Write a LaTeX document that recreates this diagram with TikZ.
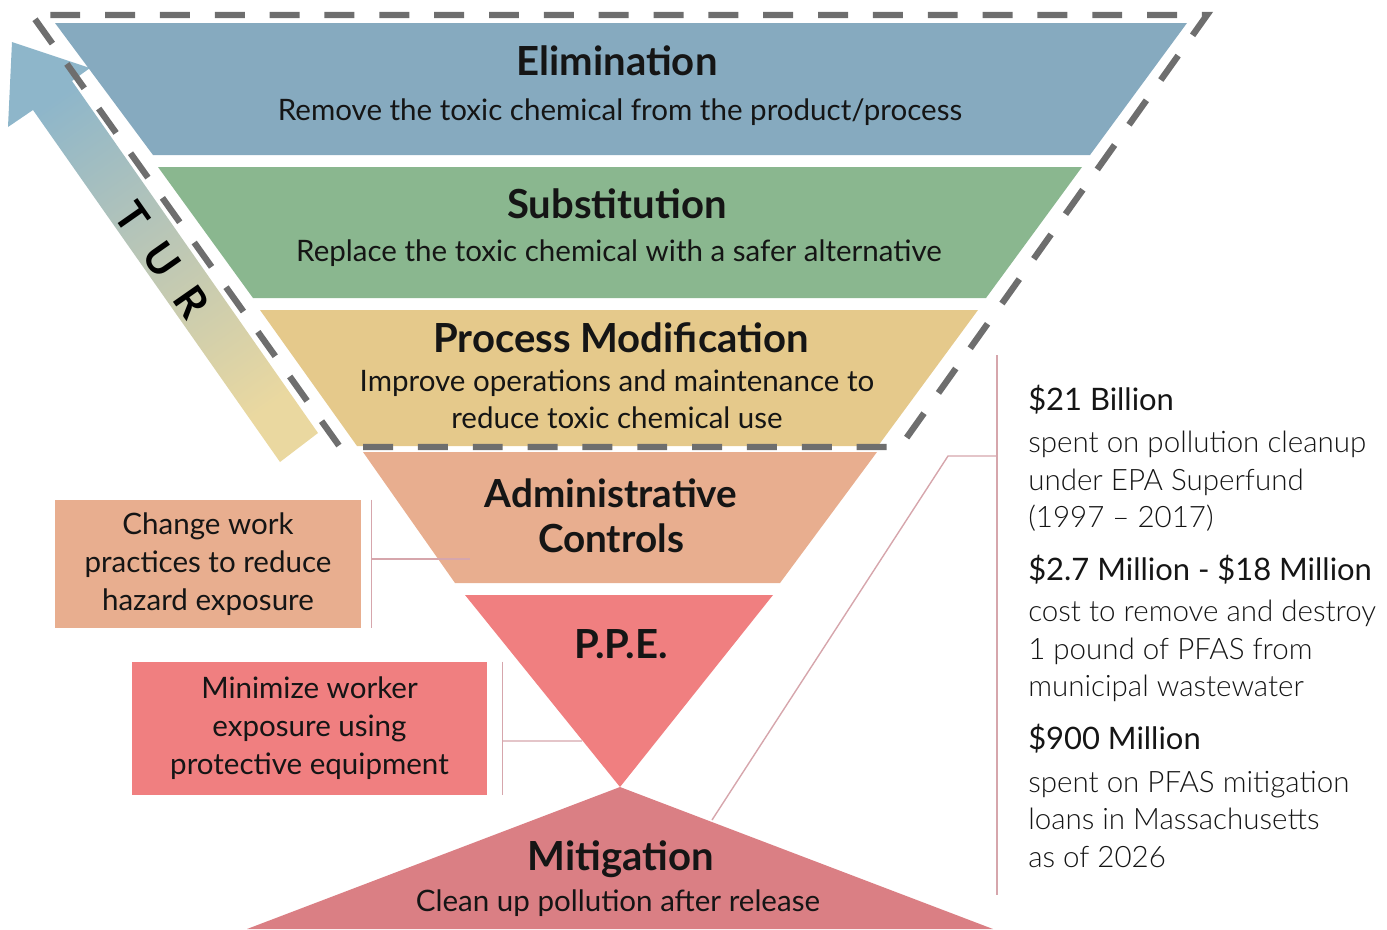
\documentclass[tikz,border=0pt]{standalone}
\usepackage{fontspec}
\setmainfont{Lato}
\newfontfamily\lightfont{Lato Light}
\usepackage{xcolor}
\usetikzlibrary{calc,positioning}

\definecolor{elimblue}{HTML}{86AABF}
\definecolor{subgreen}{HTML}{8AB78F}
\definecolor{procyellow}{HTML}{E5C98B}
\definecolor{admorange}{HTML}{E8AE8F}
\definecolor{ppered}{HTML}{F07F80}
\definecolor{mitred}{HTML}{DA7F84}
\definecolor{dashgray}{HTML}{6E6E6E}
\definecolor{linkpink}{HTML}{D6A6AC}
\definecolor{turblue}{HTML}{8EB6CA}
\definecolor{turgreen}{HTML}{A3C4A4}
\definecolor{turyellow}{HTML}{EAD8A0}
\definecolor{inktext}{HTML}{151515}

\begin{document}
\begin{tikzpicture}[
    x=0.025cm, y=-0.025cm,
    title/.style={font=\fontsize{28.5}{32}\selectfont\bfseries, text=inktext, inner sep=0pt},
    subline/.style={font=\fontsize{21}{26.3}\selectfont, text=inktext, inner sep=0pt, align=center},
    sidebox/.style={rectangle, font=\fontsize{21}{27}\selectfont, text=inktext, align=center, inner sep=0pt},
    turlabel/.style={font=\fontsize{30}{36}\selectfont\bfseries, text=black, inner sep=0pt},
    stat/.style={anchor=base west, font=\fontsize{22}{26}\selectfont, text=inktext, inner sep=0pt},
    note/.style={anchor=north west, align=left, font=\lightfont\fontsize{21}{26.6}\selectfont, text=inktext, inner sep=0pt},
    link/.style={draw=linkpink, line width=1pt},
    outline/.style={draw=dashgray, line width=4.5pt, dash pattern=on 21.3pt off 17.7pt, dash phase=26pt}
]
    \useasboundingbox (0,0) rectangle (1387,929);

    % TUR arrow
    \shade[top color=turblue, middle color=turgreen, bottom color=turyellow, shading angle=35]
        (12,42) -- (90,68) -- (72,81) -- (318,433) -- (280,462) -- (33,110) -- (8,127) -- cycle;
    \node[turlabel, rotate=-55] (tur) at (162,260) {T\hspace{0.55em}U\hspace{0.55em}R};

    % Hierarchy bands
    \fill[elimblue] (55,23) -- (1187,23) -- (1090,155) -- (153,155) -- cycle;
    \fill[subgreen] (158,167) -- (1082,167) -- (986,298) -- (253,298) -- cycle;
    \fill[procyellow] (260,310) -- (978,310) -- (878,446) -- (357,446) -- cycle;
    \fill[admorange] (363,452) -- (877,452) -- (780,583) -- (455,583) -- cycle;
    \fill[ppered] (465,595) -- (773,595) -- (620,787) -- cycle;
    \fill[mitred] (620,787) -- (993,929) -- (247,929) -- cycle;

    % TUR outline
    \draw[outline] (32,15) -- (1207,15) -- (900,447) -- (340,447) -- cycle;

    % Band labels
    \node[title, anchor=base] (elim) at (617,75) {Elimination};
    \node[subline, anchor=base] (elimsub) at (620,120) {Remove the toxic chemical from the product/process};
    \node[title, anchor=base] (subst) at (617,218) {Substitution};
    \node[subline, anchor=base] (substsub) at (619,261) {Replace the toxic chemical with a safer alternative};
    \node[title, anchor=base] (proc) at (621,352) {Process Modification};
    \node[subline, anchor=north] (procsub) at (617,369) {Improve operations and maintenance to\\reduce toxic chemical use};
    \node[title, anchor=north, align=center, font=\fontsize{27.5}{32}\selectfont\bfseries] (adm) at (611,478) {Administrative\\Controls};
    \node[title, anchor=base] (ppe) at (621,658) {P.P.E.};
    \node[title, anchor=base] (mit) at (621,870) {Mitigation};
    \node[subline, anchor=base] (mitsub) at (618,911) {Clean up pollution after release};

    % Side boxes
    \node[sidebox, fill=admorange, minimum width=7.65cm, minimum height=3.2cm] (change) at (208,564)
        {Change work\\practices to reduce\\hazard exposure};
    \node[sidebox, fill=ppered, minimum width=8.875cm, minimum height=3.325cm] (protect) at (309.5,728.5)
        {Minimize worker\\exposure using\\protective equipment};

    \coordinate (admlink) at (470,559);
    \coordinate (ppelink) at (582,741);
    \draw[link] ($(change.north east)+(10,0)$) -- ($(change.south east)+(10,0)$);
    \draw[link] ($(change.east)+(10,-5)$) -- (admlink);
    \draw[link] ($(protect.north east)+(15,0)$) -- ($(protect.south east)+(15,0)$);
    \draw[link] ($(protect.east)+(15,12.5)$) -- (ppelink);

    % Cost figures
    \node[stat] (stata) at (1028,410) {\$21 Billion};
    \node[note] (notea) at (1028,431) {spent on pollution cleanup\\under EPA Superfund\\(1997 – 2017)};
    \node[stat] (statb) at (1028,580) {\$2.7 Million - \$18 Million};
    \node[note] (noteb) at (1028,600) {cost to remove and destroy\\1 pound of PFAS from\\municipal wastewater};
    \node[stat] (statc) at (1028,749) {\$900 Million};
    \node[note] (notec) at (1028,771) {spent on PFAS mitigation\\loans in Massachusetts\\as of 2026};

    \coordinate (costtop) at (997,355);
    \coordinate (costbot) at (997,895);
    \coordinate (costjoin) at (997,456);
    \coordinate (costbend) at (948,456);
    \coordinate (mitlink) at (712,820);
    \draw[link] (costtop) -- (costbot);
    \draw[link] (costjoin) -- (costbend) -- (mitlink);
\end{tikzpicture}
\end{document}
